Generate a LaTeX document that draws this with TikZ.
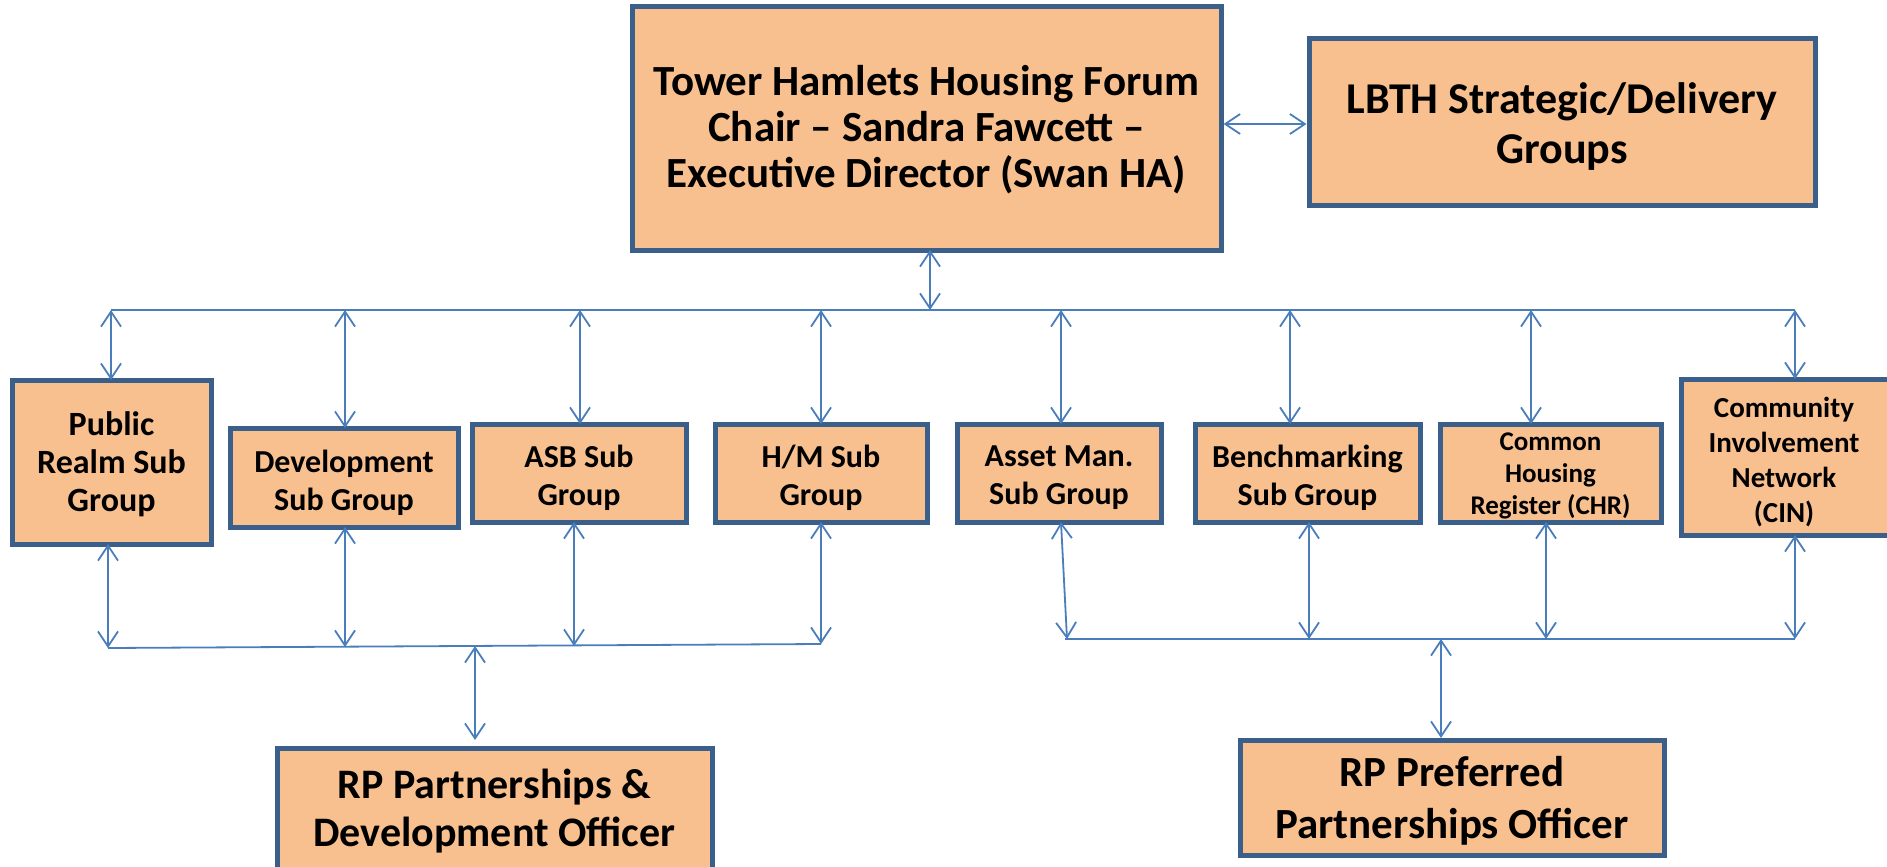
\documentclass[tikz,border=0pt]{standalone}
\usepackage{fontspec}
\setmainfont{Carlito}
\usetikzlibrary{arrows.meta}
\definecolor{boxfill}{HTML}{F9C08F}
\definecolor{boxline}{HTML}{3A5F8B}
\definecolor{conn}{HTML}{4A7EBB}
\tikzset{
  orgbox/.style={draw=boxline, fill=boxfill, line width=5pt, inner sep=0pt},
  boxtext/.style={inner sep=0pt, align=center, font=\bfseries},
  link/.style={draw=conn, line width=1.8pt, {Straight Barb[length=15pt,width=20pt]}-{Straight Barb[length=15pt,width=20pt]}},
  bus/.style={draw=conn, line width=1.8pt}
}
\newcommand{\fs}[2]{\fontsize{#1}{#2}\selectfont}
\begin{document}
\begin{tikzpicture}[x=1pt,y=-1pt]
\useasboundingbox (0,0) rectangle (1887,867);
% boxes
\node[orgbox, minimum width=589pt, minimum height=243pt] (top) at (926.5,128.5) {};
\node[boxtext, font=\bfseries\fs{43}{46}] (topT) at ([yshift=-1pt]top.center)
  {Tower Hamlets Housing Forum\\Chair -- Sandra Fawcett --\\Executive Director (Swan HA)};
\node[orgbox, minimum width=506pt, minimum height=166pt] (lbth) at (1562,122) {};
\node[boxtext, font=\bfseries\fs{44}{50}] (lbthT) at ([yshift=-5pt]lbth.center)
  {LBTH Strategic/Delivery\\Groups};
\node[orgbox, minimum width=199pt, minimum height=164pt] (pub) at (111.5,462) {};
\node[boxtext, font=\bfseries\fs{34}{38}] (pubT) at ([yshift=-2pt]pub.center)
  {Public\\Realm Sub\\Group};
\node[orgbox, minimum width=228pt, minimum height=99pt] (dev) at (344,477.5) {};
\node[boxtext, font=\bfseries\fs{32}{38}] (devT) at ([yshift=-5pt]dev.center)
  {Development\\Sub Group};
\node[orgbox, minimum width=214pt, minimum height=98pt] (asb) at (579,473) {};
\node[boxtext, font=\bfseries\fs{32}{38}] (asbT) at ([yshift=-5pt]asb.center)
  {ASB Sub\\Group};
\node[orgbox, minimum width=212pt, minimum height=98pt] (hm) at (821,473) {};
\node[boxtext, font=\bfseries\fs{32}{38}] (hmT) at ([yshift=-5pt]hm.center)
  {H/M Sub\\Group};
\node[orgbox, minimum width=204pt, minimum height=98pt] (asset) at (1059,473) {};
\node[boxtext, font=\bfseries\fs{32}{38}] (assetT) at ([yshift=-5pt]asset.center)
  {Asset Man.\\Sub Group};
\node[orgbox, minimum width=225pt, minimum height=98pt] (bench) at (1307.5,473) {};
\node[boxtext, font=\bfseries\fs{32}{38}] (benchT) at ([yshift=-5pt]bench.center)
  {Benchmarking\\Sub Group};
\node[orgbox, minimum width=221pt, minimum height=98pt] (chr) at (1550.5,473) {};
\node[boxtext, font=\bfseries\fs{27}{32}] (chrT) at ([yshift=-3pt]chr.center)
  {Common\\Housing\\Register (CHR)};
\node[orgbox, minimum width=214pt, minimum height=156pt] (cin) at (1788,457) {};
\node[boxtext, font=\bfseries\fs{29}{35}] (cinT) at ([xshift=-4pt,yshift=-5pt]cin.center)
  {Community\\Involvement\\Network\\(CIN)};
\node[orgbox, minimum width=435pt, minimum height=127pt] (rpd) at (494.5,811.5) {};
\node[boxtext, font=\bfseries\fs{42}{48}] (rpdT) at (rpd.center)
  {RP Partnerships \&\\Development Officer};
\node[orgbox, minimum width=424pt, minimum height=115pt] (rpp) at (1452,797.5) {};
\node[boxtext, font=\bfseries\fs{43}{52}] (rppT) at ([yshift=-3pt]rpp.center)
  {RP Preferred\\Partnerships Officer};
% bus coordinates
\coordinate (tL) at (111,310);
\coordinate (tR) at (1795,310);
\coordinate (lL) at (108,648);
\coordinate (lR) at (821,644);
\coordinate (rL) at (1065,639);
\coordinate (rR) at (1795,639);
\draw[bus] (tL) -- (tR);
\draw[bus] (lL) -- (lR);
\draw[bus] (rL) -- (rR);
% top links
\draw[link] (top.east |- 0,124) -- (lbth.west |- 0,124);
\draw[link] (930,250) -- (930,310);
% bus to boxes
\draw[link] (111,310) -- (111,380);
\draw[link] (345,310) -- (345,428);
\draw[link] (580,310) -- (580,424);
\draw[link] (821,310) -- (821,424);
\draw[link] (1061,310) -- (1061,424);
\draw[link] (1290,310) -- (1290,424);
\draw[link] (1531,310) -- (1531,424);
\draw[link] (1795,310) -- (1795,379);
% boxes to bottom buses
\draw[link] (108,544) -- (108,648);
\draw[link] (345,527) -- (345,647);
\draw[link] (574,522) -- (574,646);
\draw[link] (821,522) -- (821,644);
\draw[link] (1061,522) -- (1067,639);
\draw[link] (1309,522) -- (1309,639);
\draw[link] (1546,522) -- (1546,639);
\draw[link] (1795,535) -- (1795,639);
% buses to officers
\draw[link] (475,646) -- (475,740);
\draw[link] (1441,639) -- (1441,738);
\end{tikzpicture}
\end{document}
